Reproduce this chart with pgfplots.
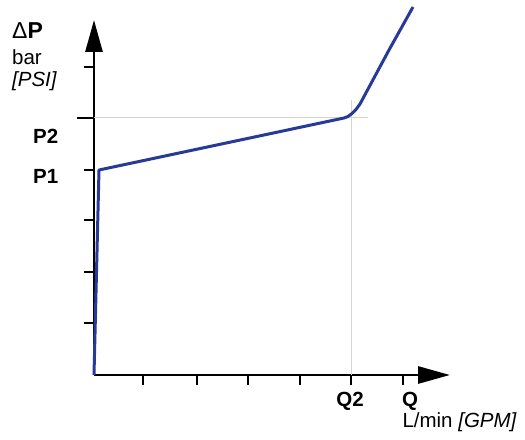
\documentclass[border=0pt]{standalone}
\usepackage{pgfplots}
\pgfplotsset{compat=1.18}
\usepackage{fontspec}
\setmainfont{Liberation Sans}
\usetikzlibrary{arrows.meta}
\definecolor{curve}{RGB}{38,58,150}
\definecolor{guide}{RGB}{212,212,212}
\begin{document}
\begin{tikzpicture}
\begin{axis}[
  scale only axis, width=356bp, height=355bp,
  xmin=0, xmax=356, ymin=0, ymax=355,
  axis lines=left,
  axis line style={line width=2.8bp, black, -{Triangle[length=32bp,width=17bp]}},
  tick align=outside,
  major tick length=10bp,
  tick style={line width=2bp, black},
  xtick={49,103,154,206,257,309},
  ytick={52,103,155,205,308},
  xticklabels={}, yticklabels={},
  extra y ticks={257},
  extra y tick labels={},
  extra y tick style={major tick length=17bp},
  clip=false,
]
\draw[guide, line width=1bp] (axis cs:0,257) -- (axis cs:274,257);
\draw[guide, line width=1bp] (axis cs:257,0) -- (axis cs:257,275);
\addplot[curve, line width=3bp, line join=round] coordinates {
  (0,0) (5,205) (250,257) (254,258.5) (258,261.5) (262,265.5) (266,271) (295,325) (319,368)
};
\node[anchor=west, inner sep=0pt, font=\fontsize{23bp}{25bp}\selectfont] at (axis cs:-82,344) {Δ\textbf{P}};
\node[anchor=west, inner sep=0pt, font=\fontsize{20.5bp}{22bp}\selectfont] at (axis cs:-82,318) {bar};
\node[anchor=west, inner sep=0pt, font=\fontsize{20.5bp}{22bp}\selectfont\itshape] at (axis cs:-82,294) {[PSI]};
\node[anchor=west, inner sep=0pt, font=\fontsize{20.5bp}{22bp}\selectfont\bfseries] at (axis cs:-61,239) {P2};
\node[anchor=west, inner sep=0pt, font=\fontsize{20.5bp}{22bp}\selectfont\bfseries] at (axis cs:-61,199) {P1};
\node[inner sep=0pt, font=\fontsize{20.5bp}{22bp}\selectfont\bfseries] at (axis cs:256,-26) {Q2};
\node[anchor=west, inner sep=0pt, font=\fontsize{20.5bp}{22bp}\selectfont\bfseries] at (axis cs:308,-26) {Q};
\node[anchor=east, inner sep=0pt, font=\fontsize{20.5bp}{22bp}\selectfont] at (axis cs:423,-47) {L/min \textit{[GPM]}};
\coordinate (tl) at (axis cs:-94,375);
\coordinate (br) at (axis cs:431,-65);
\end{axis}
\pgfresetboundingbox
\path[use as bounding box] (tl) rectangle (br);
\end{tikzpicture}
\end{document}
